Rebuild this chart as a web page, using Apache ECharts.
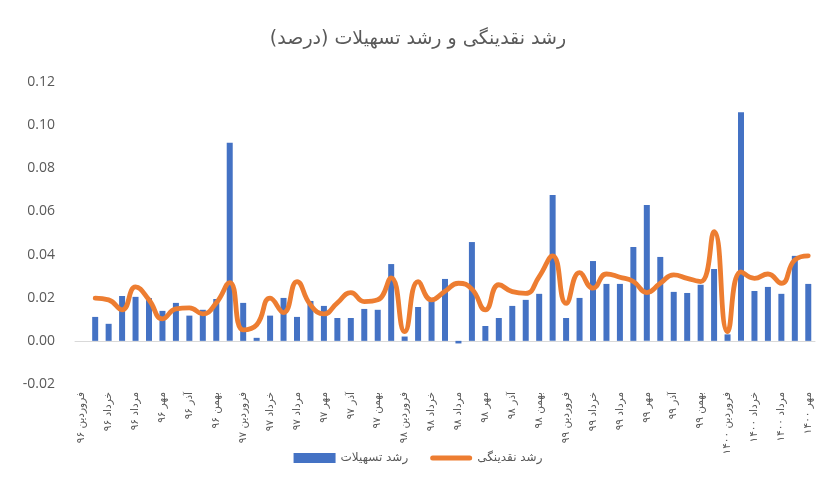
<!DOCTYPE html>
<html>
<head>
<meta charset="utf-8">
<script src="https://cdn.jsdelivr.net/npm/echarts@6/dist/echarts.min.js"></script>
<style>
html,body{margin:0;padding:0;background:#fff;}
#c{width:836px;height:489px;}
</style>
</head>
<body>
<div id="c"></div>
<script>
const months = ['فروردین','اردیبهشت','خرداد','تیر','مرداد','شهریور','مهر','آبان','آذر','دی','بهمن','اسفند'];
const years = ['۹۶','۹۷','۹۸','۹۹','۱۴۰۰'];
const categories = [];
for (const y of years) { for (const m of months) { categories.push(m + ' ' + y); } }
categories.length = 55; // فروردین ۹۶ تا مهر ۱۴۰۰

const creditGrowth = [null,0.0111,0.0079,0.0208,0.0204,0.0198,0.0139,0.0176,0.0117,0.0144,
  0.0194,0.0918,0.0176,0.0014,0.0117,0.0199,0.0111,0.0185,0.0162,0.0106,
  0.0106,0.0148,0.0144,0.0356,0.002,0.0157,0.019,0.0287,-0.0012,0.0458,
  0.0069,0.0106,0.0162,0.019,0.0218,0.0676,0.0106,0.0199,0.037,0.0264,
  0.0264,0.0435,0.063,0.0389,0.0227,0.0222,0.026,0.0333,0.003,0.106,
  0.0231,0.025,0.0218,0.0394,0.0264];

const liquidityGrowth = [null,0.0198,0.019,0.0144,0.025,0.019,0.0102,0.0148,0.0153,0.0125,
  0.0176,0.027,0.0051,0.0074,0.0198,0.0131,0.0275,0.0167,0.0125,0.0176,
  0.0224,0.0182,0.019,0.0292,0.0043,0.0275,0.019,0.023,0.0267,0.024,
  0.0144,0.026,0.0228,0.022,0.0298,0.0394,0.0174,0.0316,0.0244,0.031,
  0.0295,0.0275,0.0224,0.0267,0.0306,0.029,0.0275,0.0506,0.0043,0.032,
  0.029,0.031,0.0267,0.0375,0.0394];

const yTicks = {min: -0.02, max: 0.12, interval: 0.02};

const chart = echarts.init(document.getElementById('c'));
chart.setOption({
  backgroundColor: '#fff',
  animation: false,
  title: {
    text: 'رشد نقدینگی و رشد تسهیلات (درصد)',
    left: 'center', top: 25,
    textStyle: {fontFamily: 'DejaVu Sans', fontSize: 19, fontWeight: 'normal', color: '#595959'}
  },
  legend: {
    bottom: 20, left: 'center',
    itemGap: 22, itemWidth: 42, itemHeight: 10,
    symbolKeepAspect: true,
    textStyle: {fontFamily: 'DejaVu Sans', fontSize: 12, color: '#595959'},
    data: [
      {name: 'رشد تسهیلات', icon: 'rect'},
      {name: 'رشد نقدینگی', icon: 'path://M2.5,0 L39.5,0 A2.5,2.5 0 0 1 39.5,5 L2.5,5 A2.5,2.5 0 0 1 2.5,0 Z'}
    ]
  },
  grid: {left: 75, right: 21, top: 82, bottom: 105},
  xAxis: {
    type: 'category',
    data: categories,
    axisLine: {onZero: true, lineStyle: {color: '#d9d9d9', width: 1}},
    axisTick: {show: false},
    axisLabel: {
      interval: 1, rotate: 90, margin: 8,
      fontFamily: 'DejaVu Sans', fontSize: 10.5, color: '#595959'
    }
  },
  yAxis: {
    type: 'value',
    min: yTicks.min, max: yTicks.max, interval: yTicks.interval,
    axisLine: {show: false},
    axisTick: {show: false},
    splitLine: {show: false},
    axisLabel: {
      margin: 20,
      fontFamily: 'Open Sans', fontSize: 14, color: '#595959',
      formatter: v => v.toFixed(2)
    }
  },
  series: [
    {
      name: 'رشد تسهیلات', type: 'bar', data: creditGrowth,
      barWidth: 6, itemStyle: {color: '#4472C4'}
    },
    {
      name: 'رشد نقدینگی', type: 'line', data: liquidityGrowth,
      smooth: 0.5, symbol: 'none', z: 5,
      lineStyle: {color: '#ED7D31', width: 4.8, cap: 'round', join: 'round'},
      itemStyle: {color: '#ED7D31'}
    }
  ]
});
</script>
</body>
</html>
